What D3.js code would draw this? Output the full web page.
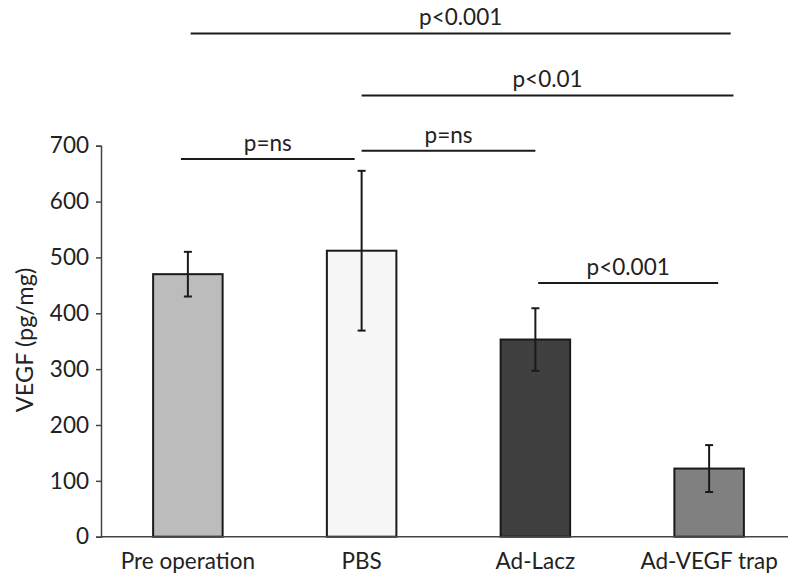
<!DOCTYPE html>
<html>
<head>
<meta charset="utf-8">
<script src="https://cdn.jsdelivr.net/npm/d3@7"></script>
<style>
  body { margin: 0; background: #fff; }
  svg { display: block; font-family: Lato, "Open Sans", sans-serif; }
</style>
</head>
<body>
<svg id="chart" width="788" height="582"></svg>
<script>
const groups = ["Pre operation", "PBS", "Ad-Lacz", "Ad-VEGF trap"];
const means = [470, 512, 353, 122];
const errors = [40, 143, 56, 42];
const yTicks = [0, 100, 200, 300, 400, 500, 600, 700];

// significance brackets: from group, to group, level (pg/mg), label
const brackets = [
  { from: 0, to: 3, level: 901, label: "p<0.001" },
  { from: 1, to: 3, level: 790, label: "p<0.01" },
  { from: 0, to: 1, level: 676, label: "p=ns" },
  { from: 1, to: 2, level: 691, label: "p=ns" },
  { from: 2, to: 3, level: 454, label: "p<0.001" }
];

const fills = ["#bcbcbc", "#f7f7f7", "#404040", "#808080"];
// small horizontal nudges of bracket ends, in bandwidths
const bracketNudge = [[0.04, 0.31], [0, 0.35], [-0.1, -0.1], [0, 0], [0.04, 0.13]];

const svg = d3.select("#chart");
const y0 = 536.7, yTop = 145.7;
const fs = 22.5;

const x = d3.scaleBand()
  .domain(groups)
  .range([101, 796])
  .paddingInner(0.6)
  .paddingOuter(0.3);

const y = d3.scaleLinear()
  .domain([0, 700])
  .range([y0, yTop]);

const center = i => x(groups[i]) + x.bandwidth() / 2;

// y axis
const yAxis = svg.append("g")
  .attr("transform", "translate(101,0)")
  .call(d3.axisLeft(y).tickValues(yTicks).tickSize(5).tickPadding(7));
yAxis.select(".domain").attr("stroke", "#444").attr("stroke-width", 1.5);
yAxis.selectAll(".tick line").attr("stroke", "#444").attr("stroke-width", 1.5);
yAxis.selectAll("text")
  .attr("font-size", fs)
  .attr("font-family", "Lato, sans-serif")
  .attr("fill", "#222");

// bars
svg.selectAll(".bar")
  .data(groups)
  .enter()
  .append("rect")
  .attr("class", "bar")
  .attr("x", d => x(d))
  .attr("y", (d, i) => y(means[i]))
  .attr("width", x.bandwidth())
  .attr("height", (d, i) => y(0) - y(means[i]))
  .attr("fill", (d, i) => fills[i])
  .attr("stroke", "#1a1a1a")
  .attr("stroke-width", 2);

// x axis
const xAxis = svg.append("g")
  .attr("transform", "translate(0," + y0 + ")")
  .call(d3.axisBottom(x).tickSize(0).tickPadding(16));
xAxis.select(".domain").attr("d", "M101,0H788").attr("stroke", "#444").attr("stroke-width", 1.5);
xAxis.selectAll("text")
  .attr("font-size", fs)
  .attr("font-family", "Lato, sans-serif")
  .attr("fill", "#222");

// error bars
const err = svg.append("g").attr("stroke", "#1a1a1a").attr("stroke-width", 2);
groups.forEach((g, i) => {
  const cx = center(i);
  err.append("line").attr("x1", cx).attr("x2", cx)
    .attr("y1", y(means[i] + errors[i])).attr("y2", y(means[i] - errors[i]));
  [means[i] + errors[i], means[i] - errors[i]].forEach(v => {
    err.append("line").attr("x1", cx - 4).attr("x2", cx + 4)
      .attr("y1", y(v)).attr("y2", y(v));
  });
});

// significance brackets
const bw = x.bandwidth();
brackets.forEach((b, k) => {
  const x1 = center(b.from) + bracketNudge[k][0] * bw;
  const x2 = center(b.to) + bracketNudge[k][1] * bw;
  svg.append("line")
    .attr("x1", x1).attr("x2", x2)
    .attr("y1", y(b.level)).attr("y2", y(b.level))
    .attr("stroke", "#1a1a1a").attr("stroke-width", 2);
  svg.append("text")
    .attr("x", (x1 + x2) / 2)
    .attr("y", y(b.level) - 8)
    .attr("text-anchor", "middle")
    .attr("font-size", fs)
    .attr("fill", "#222")
    .text(b.label);
});

// y label
svg.append("text")
  .attr("transform", "translate(33,340) rotate(-90)")
  .attr("text-anchor", "middle")
  .attr("font-size", fs + 1)
  .attr("fill", "#222")
  .text("VEGF (pg/mg)");
</script>
</body>
</html>
